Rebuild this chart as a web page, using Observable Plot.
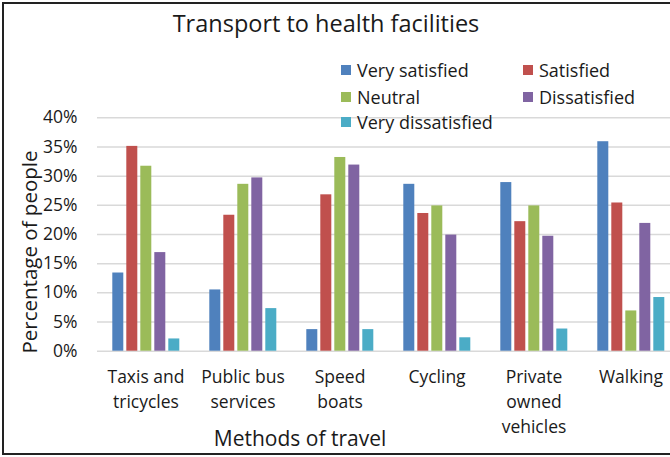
<!DOCTYPE html>
<html><head><meta charset="utf-8">
<script src="https://cdn.jsdelivr.net/npm/d3@7"></script>
<script src="https://cdn.jsdelivr.net/npm/@observablehq/plot@0.6"></script>
<style>
body{margin:0;background:#fff;font-family:"Open Sans", Lato, sans-serif;color:#1a1a1a;}
#wrap{position:relative;width:670px;height:457px;overflow:hidden;background:#fff;}
#frame{position:absolute;left:2px;top:2px;width:680px;height:453px;border-left:2px solid #222;border-top:2px solid #222;border-bottom:2px solid #222;box-sizing:border-box;pointer-events:none;}
#chart{position:absolute;left:0;top:0;}
.ov{position:absolute;white-space:nowrap;line-height:1;}
#title{left:326px;top:24px;transform:translate(-50%,-50%);font-size:23.5px;}
#ytitle{left:29px;top:252px;transform:translate(-50%,-50%) rotate(-90deg);font-size:20.5px;}
#xtitle{left:300px;top:438px;transform:translate(-50%,-50%);font-size:21px;}
.lg{position:absolute;font-size:18px;line-height:1;white-space:nowrap;transform:translateY(-50%);}
.sw{position:absolute;width:10px;height:10px;transform:translateY(-50%);}
</style>
</head><body>
<div id="wrap">
  <div id="chart"></div>
  <div id="title" class="ov">Transport to health facilities</div>
  <div id="ytitle" class="ov">Percentage of people</div>
  <div id="xtitle" class="ov">Methods of travel</div>
  <div id="legend"></div>
  <div id="frame"></div>
</div>
<script>
const methods = ["Taxis and tricycles", "Public bus services", "Speed boats", "Cycling", "Private owned vehicles", "Walking"];
const methodLabels = ["Taxis and\ntricycles", "Public bus\nservices", "Speed\nboats", "Cycling", "Private\nowned\nvehicles", "Walking"];
const series = ["Very satisfied", "Satisfied", "Neutral", "Dissatisfied", "Very dissatisfied"];
const colors = ["#4F81BD", "#C0504D", "#9BBB59", "#8064A2", "#4BACC6"];
const verySatisfied    = [13.4, 10.5, 3.7, 28.6, 28.9, 35.9];
const satisfied        = [35.1, 23.3, 26.8, 23.6, 22.2, 25.4];
const neutral          = [31.7, 28.6, 33.2, 24.9, 24.9, 6.9];
const dissatisfied     = [16.9, 29.7, 31.9, 19.9, 19.7, 21.9];
const veryDissatisfied = [2.1, 7.3, 3.7, 2.3, 3.8, 9.2];
const yTicks = [0, 5, 10, 15, 20, 25, 30, 35, 40];

const seriesValues = [verySatisfied, satisfied, neutral, dissatisfied, veryDissatisfied];
const data = methods.flatMap((m, i) => series.map((s, j) => ({method: m, series: s, value: seriesValues[j][i]})));
const labelOf = new Map(methods.map((m, i) => [m, methodLabels[i]]));

const chart = Plot.plot({
  width: 670,
  height: 457,
  marginLeft: 96.7,
  marginRight: -9.8,
  marginTop: 117.3,
  marginBottom: 106.3,
  style: {fontFamily: "'Open Sans', Lato, sans-serif", background: "transparent", color: "#1a1a1a", overflow: "visible"},
  fx: {domain: methods, padding: 0, axis: null, label: null},
  x: {domain: series, paddingInner: 0.236, paddingOuter: 0.902, axis: null},
  y: {domain: [0, 40], axis: null},
  color: {domain: series, range: colors},
  marks: [
    Plot.gridY(yTicks, {stroke: "#d9d9d9", strokeOpacity: 1, strokeWidth: 1.5}),
    Plot.axisY(yTicks, {tickSize: 0, tickPadding: 20, fontSize: 17.5, tickFormat: d => d + "%", label: null}),
    Plot.axisFx({anchor: "bottom", tickSize: 0, tickPadding: 14, fontSize: 17.5, lineHeight: 1.43, tickFormat: m => labelOf.get(m), label: null}),
    Plot.barY(data, {fx: "method", x: "series", y: "value", fill: "series"})
  ]
});
document.getElementById("chart").appendChild(chart);

// legend
const legend = document.getElementById("legend");
const colLeft = [341, 523];
const rowY = [70, 96.7, 121.7];
series.forEach((s, i) => {
  const c = i % 2, r = Math.floor(i / 2);
  const sw = document.createElement("div");
  sw.className = "sw";
  sw.style.left = colLeft[c] + "px";
  sw.style.top = rowY[r] + "px";
  sw.style.background = colors[i];
  legend.appendChild(sw);
  const t = document.createElement("div");
  t.className = "lg";
  t.style.left = (colLeft[c] + 16) + "px";
  t.style.top = rowY[r] + "px";
  t.textContent = s;
  legend.appendChild(t);
});
</script>
</body></html>
